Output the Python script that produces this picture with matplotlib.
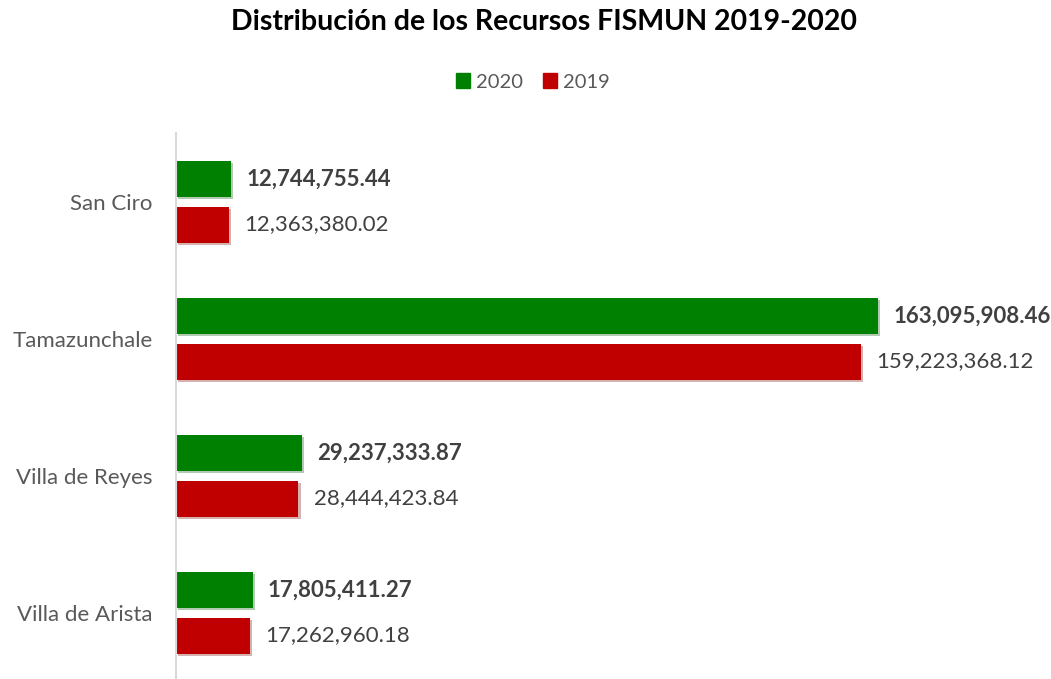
import matplotlib.pyplot as plt
import matplotlib.patheffects as pe
from matplotlib.patches import Patch
import numpy as np

plt.rcParams['font.family'] = ['Lato', 'DejaVu Sans']

municipios = ["San Ciro", "Tamazunchale", "Villa de Reyes", "Villa de Arista"]
rec_2020 = [12744755.44, 163095908.46, 29237333.87, 17805411.27]
rec_2019 = [12363380.02, 159223368.12, 28444423.84, 17262960.18]

verde = "#008000"
rojo = "#C00000"

fig = plt.figure(figsize=(10.51, 6.79), dpi=100)
ax = fig.add_axes([176 / 1051, 0, (1040 - 176) / 1051, (679 - 133) / 679])

y = np.arange(len(municipios))
h = 0.263
sombra = [pe.SimplePatchShadow(offset=(1.5, -1.5), alpha=0.3, rho=0.6), pe.Normal()]

b1 = ax.barh(y - 0.166, rec_2020, height=h, color=verde, path_effects=sombra)
b2 = ax.barh(y + 0.168, rec_2019, height=h, color=rojo, path_effects=sombra)

for bar, v in zip(b1, rec_2020):
    ax.annotate(f"{v:,.2f}", (bar.get_width(), bar.get_y() + bar.get_height() / 2),
                xytext=(11, 0), textcoords="offset points", va="center", ha="left",
                fontsize=16, fontweight="bold", color="#404040")
for bar, v in zip(b2, rec_2019):
    ax.annotate(f"{v:,.2f}", (bar.get_width(), bar.get_y() + bar.get_height() / 2),
                xytext=(11, 0), textcoords="offset points", va="center", ha="left",
                fontsize=16, color="#404040")

ax.set_xlim(0, (1040 - 176) / 702 * 163095908.46)
ax.set_ylim(3.485, -0.5)
ax.set_yticks(y)
ax.set_yticklabels(municipios, fontsize=16, color="#595959")
ax.tick_params(axis="y", length=0, pad=17)
ax.set_xticks([])
for s in ["top", "right", "bottom"]:
    ax.spines[s].set_visible(False)
ax.spines["left"].set_color("#D9D9D9")
ax.spines["left"].set_linewidth(1.5)

fig.text(0.518, 1 - 22 / 679, "Distribución de los Recursos FISMUN 2019-2020",
         ha="center", va="center", fontsize=20.5, fontweight="bold", color="black")

handles = [Patch(color=verde, label="2020"), Patch(color=rojo, label="2019")]
fig.legend(handles=handles, loc="center", bbox_to_anchor=(0.507, 1 - 82 / 679), ncol=2,
           frameon=False, fontsize=14.5, handlelength=0.7, handleheight=0.7,
           handletextpad=0.3, columnspacing=1.0, labelcolor="#595959")

fig.savefig("out.png", dpi=100)
